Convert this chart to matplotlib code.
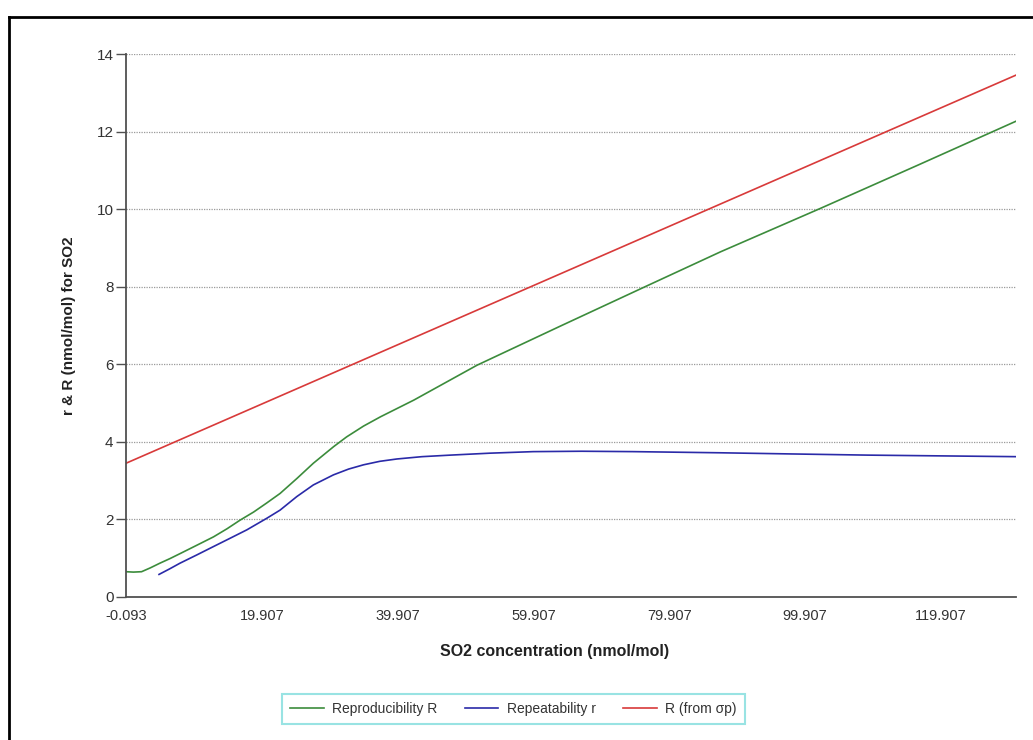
import matplotlib
matplotlib.use("Agg")
import matplotlib.pyplot as plt
from matplotlib.lines import Line2D

plt.rcParams['font.family'] = ['Liberation Sans', 'DejaVu Sans']

# SO2 concentration (nmol/mol) and precision estimates
repro_x = [-0.093, 1.0, 2.2, 3.5, 4.9, 6.4, 7.9, 10.3, 12.8, 14.8, 16.7, 18.7,
           20.6, 22.6, 25.1, 27.5, 30.5, 32.4, 34.9, 37.4, 42.3, 51.6, 64.0,
           76.4, 87.5, 102.2, 116.6, 131.0]
repro_y = [0.64, 0.63, 0.64, 0.74, 0.86, 0.98, 1.11, 1.32, 1.54, 1.75, 1.97, 2.18,
           2.41, 2.66, 3.05, 3.44, 3.87, 4.12, 4.40, 4.64, 5.07, 5.97, 6.99,
           8.00, 8.90, 10.02, 11.14, 12.27]

repeat_x = [4.77, 6.3, 7.86, 10.3, 12.8, 15.2, 17.7, 20.65, 22.6, 25.07, 27.5,
            30.46, 32.7, 34.9, 37.3, 39.8, 43.5, 47.7, 53.5, 59.9, 67.0, 74.6,
            87.5, 98.0, 109.1, 120.0, 131.0]
repeat_y = [0.57, 0.71, 0.86, 1.07, 1.29, 1.50, 1.72, 2.02, 2.23, 2.58, 2.88,
            3.14, 3.29, 3.40, 3.49, 3.55, 3.61, 3.65, 3.70, 3.74, 3.75, 3.74,
            3.71, 3.68, 3.65, 3.63, 3.61]

sigp_x = [-0.093, 131.0]
sigp_y = [3.44, 13.46]

x_ticks = [-0.093, 19.907, 39.907, 59.907, 79.907, 99.907, 119.907]
x_tick_labels = ["-0.093", "19.907", "39.907", "59.907", "79.907", "99.907", "119.907"]
y_ticks = [0, 2, 4, 6, 8, 10, 12, 14]

series_labels = ["Reproducibility R", "Repeatability r", "R (from \u03c3p)"]

W, H = 1033, 740
fig = plt.figure(figsize=(W / 100, H / 100), dpi=100)
fig.patch.set_facecolor("white")

ax = fig.add_axes([126 / W, 1 - 596.5 / H, 890 / W, 542.3 / H])

ax.plot(repro_x, repro_y, color="#3c8c3c", lw=1.2, label=series_labels[0])
ax.plot(repeat_x, repeat_y, color="#2a2aa8", lw=1.2, label=series_labels[1])
ax.plot(sigp_x, sigp_y, color="#d83a3a", lw=1.2, label=series_labels[2])

ax.set_xlim(-0.093, 131.0)
ax.set_ylim(0, 14)
ax.set_xticks(x_ticks)
ax.set_xticklabels(x_tick_labels)
ax.set_yticks(y_ticks)

for y in y_ticks[1:]:
    ax.axhline(y, color="#9a9a9a", lw=0.9, ls=(0, (1, 1)), zorder=0)

for side in ("top", "right"):
    ax.spines[side].set_visible(False)
for side in ("left", "bottom"):
    ax.spines[side].set_color("#505050")
    ax.spines[side].set_linewidth(1.3)

ax.tick_params(axis="x", length=0, pad=9, labelsize=10.5, labelcolor="#333333")
ax.tick_params(axis="y", length=7, width=1.0, color="#505050", pad=2,
               labelsize=11, labelcolor="#333333")

ax.set_xlabel("SO2 concentration (nmol/mol)", fontsize=11.5, fontweight="bold",
              color="#222222")
ax.xaxis.set_label_coords(0.482, -0.087)
ax.set_ylabel("r & R (nmol/mol) for SO2", fontsize=11, fontweight="bold",
              color="#222222")
ax.yaxis.set_label_coords(-0.056, 0.5)

leg = fig.legend(loc="center", bbox_to_anchor=(513.5 / W, 1 - 709 / H), ncol=3,
                 frameon=True, fancybox=False, fontsize=10, handlelength=2.4,
                 columnspacing=2.0, handletextpad=0.6, borderpad=0.6)
leg.get_frame().set_edgecolor("#80dcdc")
leg.get_frame().set_linewidth(1.5)
for t in leg.get_texts():
    t.set_color("#333333")

# outer frame along the left and top edges
x0, y0 = 8.5 / W, 1 - 16.5 / H
fig.add_artist(Line2D([x0, x0], [0, y0], color="black", lw=2.0,
                      transform=fig.transFigure))
fig.add_artist(Line2D([x0, 1], [y0, y0], color="black", lw=2.0,
                      transform=fig.transFigure))

fig.savefig("out.png", dpi=100)
